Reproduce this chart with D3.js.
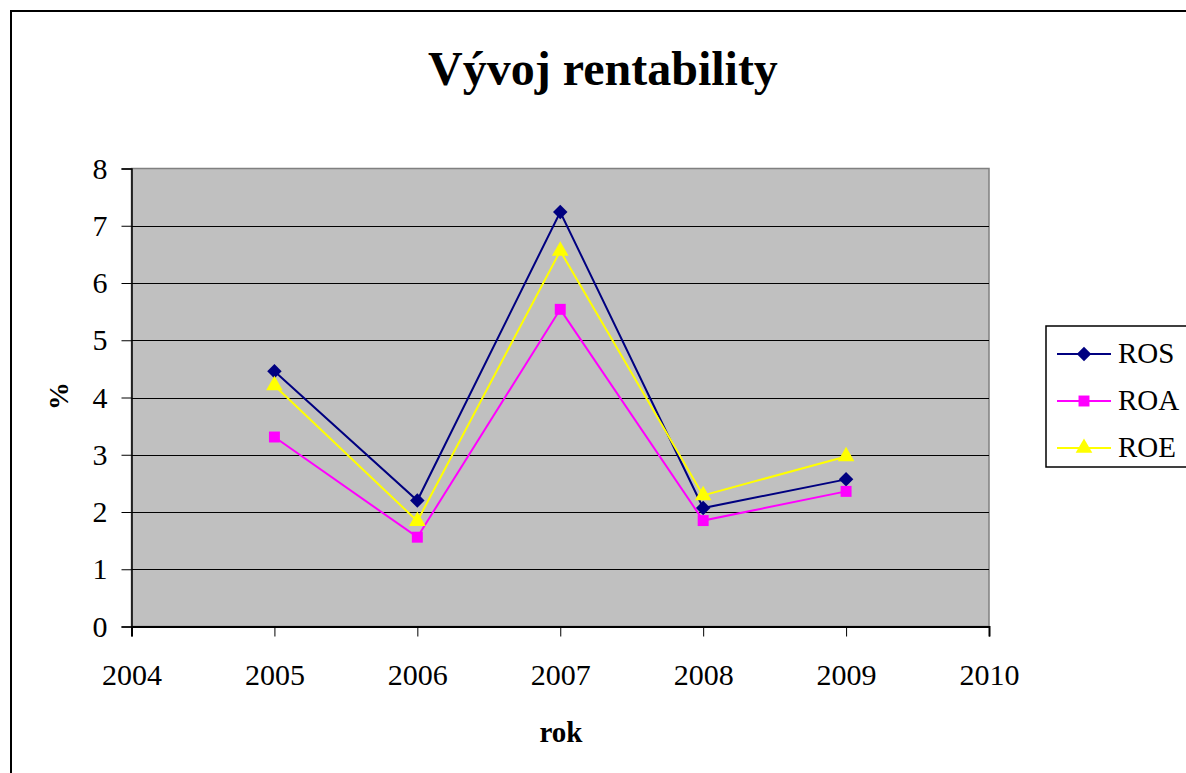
<!DOCTYPE html>
<html>
<head>
<meta charset="utf-8">
<script src="https://cdn.jsdelivr.net/npm/d3@7"></script>
<style>
  body { margin: 0; background: #fff; }
  svg text { font-family: "Liberation Serif", "Times New Roman", serif; fill: #000; }
</style>
</head>
<body>
<div id="chart"></div>
<script>
// Vývoj rentability - ROS / ROA / ROE
const years = [2005, 2006, 2007, 2008, 2009];
const ros = [4.46, 2.20, 7.24, 2.07, 2.57];
const roa = [3.31, 1.56, 5.54, 1.85, 2.36];
const roe = [4.21, 1.84, 6.56, 2.29, 2.97];
const xTicks = [2004, 2005, 2006, 2007, 2008, 2009, 2010];
const yTicks = [0, 1, 2, 3, 4, 5, 6, 7, 8];

// kosočtverec = čtverec otočený o 45°
const series = [
  { name: "ROS", values: ros, color: "#000080", symbol: d3.symbolSquare, size: 105, rot: 45 },
  { name: "ROA", values: roa, color: "#FF00FF", symbol: d3.symbolSquare, size: 120, rot: 0 },
  { name: "ROE", values: roe, color: "#FFFF00", symbol: d3.symbolTriangle, size: 120, rot: 0 }
];

const W = 1186, H = 773;
const plot = { left: 131.5, top: 168.5, right: 989, bottom: 626.5 };

const svg = d3.select("#chart").append("svg")
  .attr("width", W)
  .attr("height", H);

// rámeček grafu
svg.append("rect")
  .attr("x", 11).attr("y", 11)
  .attr("width", W + 10).attr("height", H + 10)
  .attr("fill", "#fff")
  .attr("stroke", "#000")
  .attr("stroke-width", 2);

const x = d3.scaleLinear().domain([2004, 2010]).range([plot.left, plot.right]);
const y = d3.scaleLinear().domain([0, 8]).range([plot.bottom, plot.top]);

// pozadí plochy
svg.append("rect")
  .attr("x", plot.left).attr("y", plot.top)
  .attr("width", plot.right - plot.left)
  .attr("height", plot.bottom - plot.top)
  .attr("fill", "#C0C0C0")
  .attr("stroke", "#808080")
  .attr("stroke-width", 1.5);

// mřížka
svg.append("g")
  .selectAll("line")
  .data(yTicks.filter(d => d > 0 && d < 8))
  .enter().append("line")
  .attr("x1", plot.left).attr("x2", plot.right)
  .attr("y1", d => Math.round(y(d)) + 0.5)
  .attr("y2", d => Math.round(y(d)) + 0.5)
  .attr("stroke", "#000")
  .attr("stroke-width", 1.2);

// osa Y
const yAxis = d3.axisLeft(y).tickValues(yTicks).tickSize(10).tickPadding(14).tickFormat(d3.format("d"));
svg.append("g")
  .attr("transform", `translate(${plot.left},0)`)
  .call(yAxis)
  .call(g => g.select(".domain").attr("stroke", "#000").attr("stroke-width", 1.5))
  .call(g => g.selectAll(".tick line").attr("stroke", "#000"))
  .selectAll("text")
  .style("font-size", "30px")
  .style("font-family", "Liberation Serif, serif");

// osa X
const xAxis = d3.axisBottom(x).tickValues(xTicks).tickSize(10).tickPadding(27).tickFormat(d3.format("d"));
svg.append("g")
  .attr("transform", `translate(0,${plot.bottom})`)
  .call(xAxis)
  .call(g => g.select(".domain").attr("stroke", "#000").attr("stroke-width", 2))
  .call(g => g.selectAll(".tick line").attr("stroke", "#000"))
  .selectAll("text")
  .style("font-size", "30px")
  .style("font-family", "Liberation Serif, serif");

// čáry + značky
const line = d3.line()
  .x((d, i) => x(years[i]))
  .y(d => y(d));

series.forEach(s => {
  svg.append("path")
    .datum(s.values)
    .attr("fill", "none")
    .attr("stroke", s.color)
    .attr("stroke-width", 2)
    .attr("d", line);

  svg.append("g")
    .selectAll("path")
    .data(s.values)
    .enter().append("path")
    .attr("transform", (d, i) => `translate(${x(years[i])},${y(d)}) rotate(${s.rot})`)
    .attr("d", d3.symbol().type(s.symbol).size(s.size))
    .attr("fill", s.color);
});

// titulky
svg.append("text")
  .attr("x", 603).attr("y", 85)
  .attr("text-anchor", "middle")
  .style("font-size", "48px")
  .style("font-weight", "700")
  .text("Vývoj rentability");

svg.append("text")
  .attr("x", 561).attr("y", 742)
  .attr("text-anchor", "middle")
  .style("font-size", "29px")
  .style("font-weight", "700")
  .text("rok");

svg.append("text")
  .attr("transform", "translate(68,396) rotate(-90)")
  .attr("text-anchor", "middle")
  .style("font-size", "28px")
  .style("font-weight", "700")
  .text("%");

// legenda
const legend = svg.append("g");
legend.append("rect")
  .attr("x", 1046).attr("y", 326)
  .attr("width", 160).attr("height", 141)
  .attr("fill", "#fff")
  .attr("stroke", "#000")
  .attr("stroke-width", 1.5);

const ly = d3.scalePoint().domain(series.map(s => s.name)).range([354, 448]);
series.forEach(s => {
  const yy = ly(s.name);
  legend.append("line")
    .attr("x1", 1057).attr("x2", 1111)
    .attr("y1", yy).attr("y2", yy)
    .attr("stroke", s.color)
    .attr("stroke-width", 2);
  legend.append("path")
    .attr("transform", `translate(1084,${yy}) rotate(${s.rot})`)
    .attr("d", d3.symbol().type(s.symbol).size(s.size))
    .attr("fill", s.color);
  legend.append("text")
    .attr("x", 1118).attr("y", yy + 9)
    .style("font-size", "29px")
    .text(s.name);
});
</script>
</body>
</html>
